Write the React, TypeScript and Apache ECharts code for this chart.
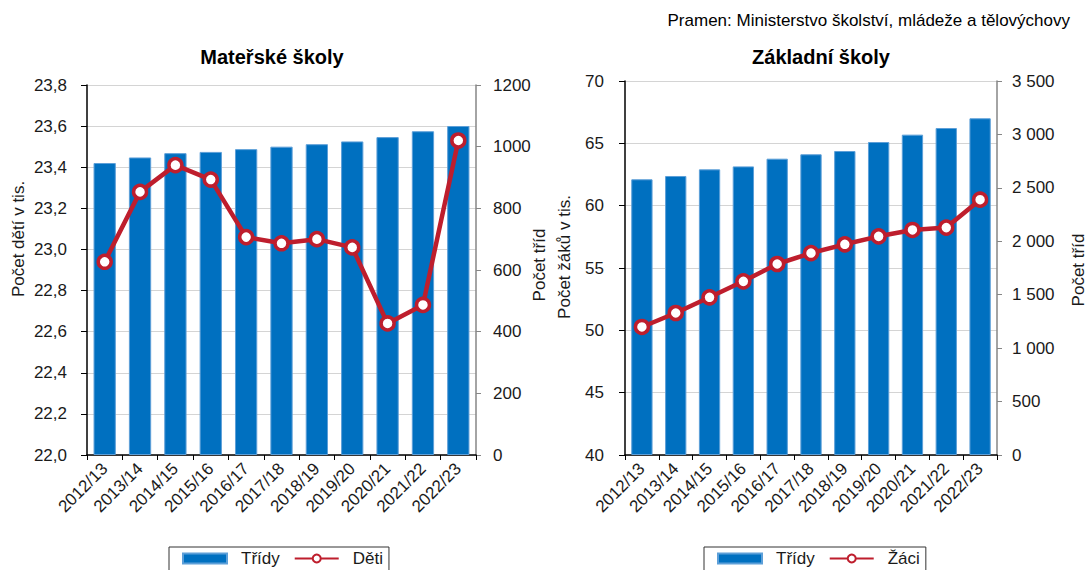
import React, { useEffect, useRef } from 'react';
import * as echarts from 'echarts';

const categories = ['2012/13', '2013/14', '2014/15', '2015/16', '2016/17', '2017/18', '2018/19', '2019/20', '2020/21', '2021/22', '2022/23'];

// Mateřské školy
const msTridy = [947, 965, 979, 983, 992, 1000, 1008, 1017, 1031, 1050, 1067];
const msDeti = [22.94, 23.28, 23.41, 23.34, 23.06, 23.03, 23.05, 23.01, 22.64, 22.73, 23.53];

// Základní školy
const zsTridy = [2580, 2611, 2673, 2701, 2773, 2814, 2845, 2929, 2998, 3060, 3151];
const zsZaci = [50.27, 51.39, 52.65, 53.93, 55.32, 56.2, 56.9, 57.54, 58.05, 58.24, 60.48];

const FONT = "'Liberation Sans', Arial, sans-serif";
const BLUE = '#0070C0';
const RED = '#BE1E2D';
const TXT = '#1a1a1a';

const fmtComma = (v: number) => v.toFixed(1).replace('.', ',');
const fmtPlain = (v: number) => String(Math.round(v));
const fmtThousands = (v: number) => String(Math.round(v)).replace(/\B(?=(\d{3})+(?!\d))/g, ' ');

function xAxis(gridIndex: number) {
  return {
    type: 'category',
    gridIndex,
    data: categories,
    boundaryGap: true,
    axisLine: { lineStyle: { color: '#000', width: 1.5 } },
    axisTick: { show: true, interval: 0, length: 5, lineStyle: { color: '#000' } },
    axisLabel: { interval: 0, rotate: 45, fontSize: 17, color: TXT, margin: 11, fontFamily: FONT },
  };
}

function leftAxis(gridIndex: number, min: number, max: number, interval: number, formatter: any, margin: number) {
  return {
    type: 'value',
    gridIndex,
    position: 'left',
    min,
    max,
    interval,
    axisLine: { show: true, lineStyle: { color: '#000', width: 1.5 } },
    axisTick: { show: true, length: 6, lineStyle: { color: '#000' } },
    axisLabel: { formatter, fontSize: 17, color: TXT, margin, fontFamily: FONT },
    splitLine: { show: true, lineStyle: { color: '#D4D4D4', width: 1 } },
  };
}

function rightAxis(gridIndex: number, min: number, max: number, interval: number, formatter: any, margin: number) {
  return {
    type: 'value',
    gridIndex,
    position: 'right',
    min,
    max,
    interval,
    axisLine: { show: true, lineStyle: { color: '#868686', width: 1.5 } },
    axisTick: { show: true, length: 5, lineStyle: { color: '#868686' } },
    axisLabel: { formatter, fontSize: 17, color: TXT, margin, fontFamily: FONT },
    splitLine: { show: false },
  };
}

function barSeries(xi: number, yi: number, data: number[]) {
  return {
    type: 'bar',
    name: 'Třídy',
    xAxisIndex: xi,
    yAxisIndex: yi,
    data,
    barWidth: '63%',
    itemStyle: { color: BLUE, borderColor: '#5D9FD8', borderWidth: 1 },
    z: 2,
  };
}

function lineSeries(name: string, xi: number, yi: number, data: number[]) {
  return {
    type: 'line',
    name,
    xAxisIndex: xi,
    yAxisIndex: yi,
    data,
    symbol: 'circle',
    symbolSize: 13,
    lineStyle: { color: RED, width: 4.5 },
    itemStyle: { color: '#fff', borderColor: RED, borderWidth: 3.5 },
    z: 3,
  };
}

function legend(left: number, second: string) {
  return {
    top: 547,
    left,
    orient: 'horizontal',
    data: [{ name: 'Třídy', icon: 'rect' }, { name: second }],
    itemWidth: 44,
    itemHeight: 10,
    itemGap: 14,
    borderColor: '#333',
    borderWidth: 1,
    padding: [3, 6, 12, 13],
    selectedMode: false,
    textStyle: { fontSize: 17, color: TXT, fontFamily: FONT, padding: [0, 0, 0, 9] },
  };
}

function vText(text: string, x: number, y: number) {
  return {
    type: 'text',
    x,
    y,
    rotation: Math.PI / 2,
    style: {
      text,
      font: `17px ${FONT}`,
      fill: TXT,
      textAlign: 'center',
      textVerticalAlign: 'middle',
      align: 'center',
      verticalAlign: 'middle',
    },
  };
}

function hText(text: string, x: number, y: number, font: string, align: string) {
  return {
    type: 'text',
    x,
    y,
    style: {
      text,
      font,
      fill: '#000',
      textAlign: align,
      textVerticalAlign: 'middle',
      align,
      verticalAlign: 'middle',
    },
  };
}

export default function App() {
  const ref = useRef<HTMLDivElement>(null);
  useEffect(() => {
    const chart = echarts.init(ref.current!, null, { renderer: 'svg' });
    const option: any = {
      animation: false,
      backgroundColor: '#fff',
      textStyle: { fontFamily: FONT },
      grid: [
        { left: 87, top: 85, width: 389, height: 370, containLabel: false },
        { left: 625, top: 81, width: 372, height: 374, containLabel: false },
      ],
      xAxis: [xAxis(0), xAxis(1)],
      yAxis: [
        leftAxis(0, 22, 23.8, 0.2, fmtComma, 20),
        rightAxis(0, 0, 1200, 200, fmtPlain, 17),
        leftAxis(1, 40, 70, 5, (v: number) => String(v), 21),
        rightAxis(1, 0, 3500, 500, fmtThousands, 15),
      ],
      legend: [legend(169, 'Děti'), legend(704, 'Žáci')],
      series: [
        barSeries(0, 1, msTridy),
        lineSeries('Děti', 0, 0, msDeti),
        barSeries(1, 3, zsTridy),
        lineSeries('Žáci', 1, 2, zsZaci),
      ],
      graphic: [
        hText('Mateřské školy', 272, 57, `bold 20px ${FONT}`, 'center'),
        hText('Základní školy', 821, 57, `bold 20px ${FONT}`, 'center'),
        hText('Pramen: Ministerstvo školství, mládeže a tělovýchovy', 1070, 20, `17px ${FONT}`, 'right'),
        vText('Počet dětí v tis.', 18, 239),
        vText('Počet tříd', 539, 265),
        vText('Počet žáků v tis.', 564, 257),
        vText('Počet tříd', 1078, 270),
      ],
    };
    chart.setOption(option);
    return () => chart.dispose();
  }, []);
  return <div ref={ref} style={{ position: 'absolute', left: 0, top: 0, width: 1086, height: 570 }} />;
}
